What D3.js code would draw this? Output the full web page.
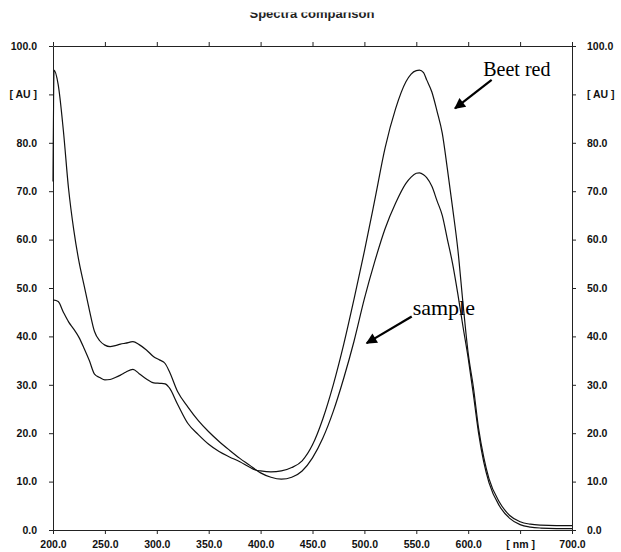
<!DOCTYPE html>
<html>
<head>
<meta charset="utf-8">
<script src="https://cdn.jsdelivr.net/npm/d3@7"></script>
<style>
body { margin: 0; background: #fff; }
svg { display: block; }
.axis text { font-family: "Liberation Sans", Arial, sans-serif; font-size: 10.5px; font-weight: bold; fill: #111; }
.axis path, .axis line { stroke: #222; stroke-width: 1; }
.note { font-family: "Liberation Serif", "Times New Roman", serif; fill: #000; }
</style>
</head>
<body>
<div id="chart"></div>
<script>
// data (wavelength in nm, absorbance in AU)
var wavelength = [200, 201, 205, 210, 215, 220, 225, 230, 235, 240, 245, 250, 255, 260, 265, 270, 277, 283, 290, 297, 303, 308, 312, 320, 330, 340, 350, 360, 370, 380, 390, 395, 400, 410, 420, 430, 440, 450, 460, 470, 480, 490, 500, 510, 520, 530, 540, 545, 550, 553, 557, 560, 565, 570, 575, 580, 585, 590, 595, 600, 605, 610, 615, 620, 630, 640, 650, 660, 670, 685, 700];

var sample = [72, 95, 92, 82.5, 70.5, 62, 55.5, 50.5, 45.5, 41, 39.1, 38.2, 37.9, 38.1, 38.4, 38.6, 38.9, 38.3, 37.2, 35.8, 35.1, 34.4, 32.8, 28.6, 25.4, 22.6, 20.3, 18.3, 16.5, 14.8, 13.3, 12.5, 11.8, 10.9, 10.5, 10.9, 12.2, 14.9, 19, 24.5, 31.3, 39, 47.8, 55.5, 62.3, 67.5, 71.6, 72.9, 73.7, 73.8, 73.4, 72.8, 71, 68, 65, 60, 55, 48.8, 42, 35.5, 28, 20, 14, 9.8, 5.0, 2.4, 1.1, 0.6, 0.4, 0.3, 0.3];

var beetRed = [47.5, 47.5, 47.2, 45, 43, 41.5, 39.8, 37.5, 35, 32.2, 31.5, 31.0, 31.1, 31.5, 32, 32.6, 33.2, 32.3, 31.2, 30.4, 30.3, 30.2, 29.4, 26, 22, 19.7, 17.7, 16.2, 15.1, 14.1, 12.9, 12.4, 12.2, 12.0, 12.2, 12.9, 14.3, 17.6, 23, 30, 38.3, 47.7, 57.6, 68.2, 79, 87, 92.6, 94.2, 94.9, 95, 94.5, 93, 90.5, 86.5, 82, 74.5, 66.5, 58, 46.8, 36.5, 29.5, 21, 15, 10.6, 5.8, 3.0, 1.7, 1.2, 1.0, 0.9, 0.9];

var xTicks = [200, 250, 300, 350, 400, 450, 500, 550, 600, 650, 700];
var xTickLabels = ["200.0", "250.0", "300.0", "350.0", "400.0", "450.0", "500.0", "550.0", "600.0", "[ nm ]", "700.0"];
var yTicks = [0, 10, 20, 30, 40, 50, 60, 70, 80, 90, 100];
var yTickLabels = ["0.0", "10.0", "20.0", "30.0", "40.0", "50.0", "60.0", "70.0", "80.0", "[ AU ]", "100.0"];

// annotations: text position and arrow in data units
var notes = [
  {text: "Beet red", size: 20, tx: 614.5, ty: 93.8, x1: 622.6, y1: 93.0, x2: 587.3, y2: 87.1},
  {text: "sample", size: 22, tx: 546.5, ty: 44.4, x1: 545.6, y1: 44.1, x2: 502.2, y2: 38.6}
];

var W = 621, H = 552;
var margin = {top: 46, right: 49, bottom: 22, left: 53};

var svg = d3.select("#chart").append("svg")
  .attr("width", W)
  .attr("height", H);

var x = d3.scaleLinear().domain([200, 700]).range([margin.left, W - margin.right]);
var y = d3.scaleLinear().domain([0, 100]).range([H - margin.bottom, margin.top]);

// title, top of it is cut off in the original scan
svg.append("clipPath").attr("id", "titleclip")
  .append("rect").attr("x", 0).attr("y", 12.5).attr("width", W).attr("height", 20);

svg.append("text")
  .attr("clip-path", "url(#titleclip)")
  .attr("x", 312)
  .attr("y", 17.5)
  .attr("text-anchor", "middle")
  .style("font-family", "Liberation Sans, Arial, sans-serif")
  .style("font-size", "13px")
  .style("font-weight", "bold")
  .style("fill", "#222")
  .text("Spectra comparison");

//axes
svg.append("g").attr("class", "axis")
  .attr("transform", "translate(0," + y(0) + ")")
  .call(d3.axisBottom(x).tickValues(xTicks).tickSize(4).tickSizeOuter(0).tickPadding(7)
    .tickFormat((d, i) => xTickLabels[i]));

svg.append("g").attr("class", "axis")
  .attr("transform", "translate(0," + y(100) + ")")
  .call(d3.axisTop(x).tickValues(xTicks).tickSize(4).tickSizeOuter(0).tickFormat(""));

svg.append("g").attr("class", "axis")
  .attr("transform", "translate(" + x(200) + ",0)")
  .call(d3.axisLeft(y).tickValues(yTicks).tickSize(4).tickSizeOuter(0).tickPadding(12)
    .tickFormat((d, i) => yTickLabels[i]));

svg.append("g").attr("class", "axis")
  .attr("transform", "translate(" + x(700) + ",0)")
  .call(d3.axisRight(y).tickValues(yTicks).tickSize(4).tickSizeOuter(0).tickPadding(11)
    .tickFormat((d, i) => yTickLabels[i]));

// spectra
var line = d3.line()
  .x((d, i) => x(wavelength[i]))
  .y(d => y(d))
  .curve(d3.curveMonotoneX);

[sample, beetRed].forEach(function(s) {
  svg.append("path")
    .datum(s)
    .attr("d", line)
    .style("fill", "none")
    .style("stroke", "#111")
    .style("stroke-width", 1.2);
});

// arrows + labels
svg.append("defs").append("marker")
  .attr("id", "head")
  .attr("viewBox", "0 0 10 10")
  .attr("refX", 9).attr("refY", 5)
  .attr("markerWidth", 14).attr("markerHeight", 11)
  .attr("markerUnits", "userSpaceOnUse")
  .attr("orient", "auto")
  .append("path").attr("d", "M0,0 L10,5 L0,10 z").style("fill", "#000");

notes.forEach(function(n) {
  svg.append("line")
    .attr("x1", x(n.x1)).attr("y1", y(n.y1))
    .attr("x2", x(n.x2)).attr("y2", y(n.y2))
    .style("stroke", "#000")
    .style("stroke-width", 2.2)
    .attr("marker-end", "url(#head)");
  svg.append("text")
    .attr("class", "note")
    .attr("x", x(n.tx)).attr("y", y(n.ty))
    .style("font-size", n.size + "px")
    .text(n.text);
});
</script>
</body>
</html>
